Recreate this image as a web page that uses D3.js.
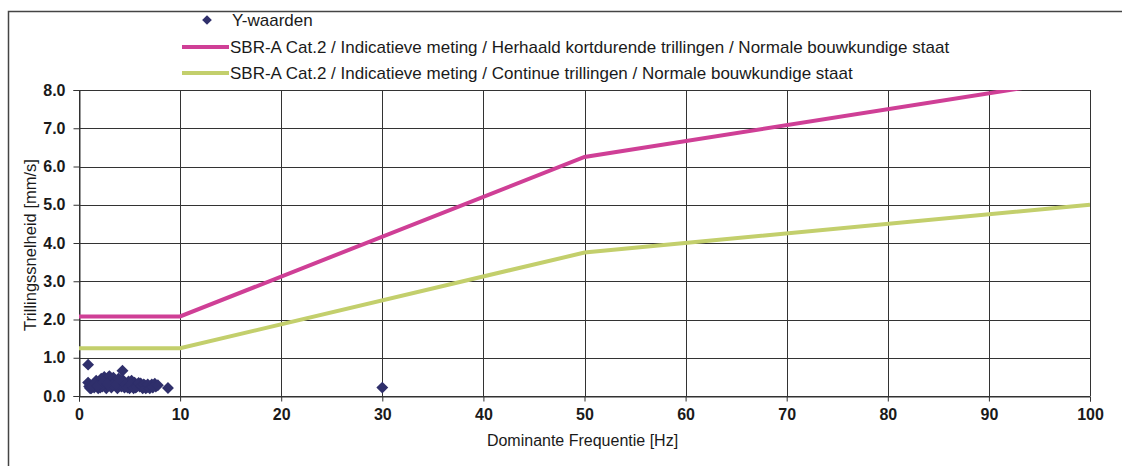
<!DOCTYPE html>
<meta charset="utf-8">
<style>
body { margin: 0; background: #fff; }
text { font-family: Arial, "Liberation Sans", sans-serif; fill: #1a1a1a; }
.grid line { stroke: #333; stroke-width: 1; }
</style>
<body>
<script src="https://cdn.jsdelivr.net/npm/d3@7"></script>
<script>
// scatter measurements: frequency [Hz], velocity [mm/s]
var measFreq = [0.9, 4.3, 8.8, 30, 0.9, 1.0, 1.2, 1.4, 1.5, 1.7, 1.9, 2.0, 2.2, 2.3, 2.5, 2.6, 2.7, 2.9,
  3.0, 3.1, 3.2, 3.4, 3.5, 3.6, 3.8, 3.9, 4.0, 4.2, 4.4, 4.5, 4.7, 4.9, 5.0, 5.2, 5.3, 5.5,
  5.6, 5.8, 6.0, 6.1, 6.3, 6.5, 6.7, 6.9, 7.2, 7.5, 7.6, 1.1, 2.1, 3.3,
  1.3, 1.6, 1.8, 2.4, 2.8, 3.7, 4.1, 4.6, 4.8, 5.1, 5.4, 5.7, 5.9, 6.2, 6.4, 6.6, 6.8, 7.0, 7.3, 7.8];
var measVel = [0.82, 0.66, 0.21, 0.22, 0.35, 0.25, 0.2, 0.3, 0.22, 0.4, 0.2, 0.35, 0.45, 0.25, 0.5, 0.3, 0.2, 0.45,
  0.52, 0.35, 0.22, 0.48, 0.3, 0.4, 0.2, 0.45, 0.33, 0.25, 0.4, 0.22, 0.3, 0.38, 0.2, 0.4, 0.28, 0.35,
  0.22, 0.3, 0.25, 0.33, 0.2, 0.28, 0.22, 0.25, 0.3, 0.32, 0.25, 0.2, 0.22, 0.28,
  0.24, 0.32, 0.26, 0.36, 0.32, 0.3, 0.42, 0.3, 0.22, 0.3, 0.2, 0.24, 0.34, 0.26, 0.3, 0.2, 0.3, 0.2, 0.22, 0.28];

// SBR-A limit lines
var limitFreq = [0, 10, 50, 100];
var shortTermVel = [2.08, 2.08, 6.25, 8.33];
var continuousVel = [1.25, 1.25, 3.75, 5.0];

var legendLabels = ["Y-waarden",
  "SBR-A Cat.2 / Indicatieve meting / Herhaald kortdurende trillingen / Normale bouwkundige staat",
  "SBR-A Cat.2 / Indicatieve meting / Continue trillingen / Normale bouwkundige staat"];

var xTicks = [0, 10, 20, 30, 40, 50, 60, 70, 80, 90, 100];
var yTicks = [0, 1, 2, 3, 4, 5, 6, 7, 8];

var colors = { meas: "#2f2f6b", pink: "#cf3f96", green: "#c3cf6c" };

var W = 1122, H = 466;
var margin = { top: 90, right: 32, bottom: 70, left: 79 };
var width = W - margin.left - margin.right,
    height = H - margin.top - margin.bottom;

var svg = d3.select("body").append("svg")
    .attr("width", W)
    .attr("height", H);

// outer chart border (no right edge visible in the scan)
svg.append("path")
    .attr("d", "M1122,11.5 H8.5 V470")
    .attr("fill", "none")
    .attr("stroke", "#444")
    .attr("stroke-width", 1.5);

var g = svg.append("g")
    .attr("transform", "translate(" + margin.left + "," + margin.top + ")");

var x = d3.scaleLinear().domain([0, 100]).range([0, width]);
var y = d3.scaleLinear().domain([0, 8]).range([height, 0]);

g.append("defs").append("clipPath").attr("id", "clip")
  .append("rect").attr("width", width).attr("height", height);

// gridlines
g.append("g").attr("class", "grid")
  .selectAll("line").data(yTicks).enter().append("line")
    .attr("x1", 0).attr("x2", width)
    .attr("y1", d => Math.round(y(d)) + 0.5).attr("y2", d => Math.round(y(d)) + 0.5);
g.append("g").attr("class", "grid")
  .selectAll("line").data(xTicks).enter().append("line")
    .attr("y1", 0).attr("y2", height)
    .attr("x1", d => Math.round(x(d)) + 0.5).attr("x2", d => Math.round(x(d)) + 0.5);

// axes
var xAxis = g.append("g")
    .attr("transform", "translate(0," + (Math.round(height) + 0.5) + ")")
    .call(d3.axisBottom(x).tickValues(xTicks).tickSize(5).tickPadding(7).tickFormat(d3.format("d")));
var yAxis = g.append("g")
    .attr("transform", "translate(0.5,0)")
    .call(d3.axisLeft(y).tickValues(yTicks).tickSize(6).tickPadding(8).tickFormat(d3.format(".1f")));
[xAxis, yAxis].forEach(function(a) {
  a.select(".domain").attr("stroke", "#333");
  a.selectAll(".tick line").attr("stroke", "#333");
  a.selectAll("text").style("font-size", "16px").style("font-weight", "bold").attr("fill", "#222");
});

// limit lines
var lineGen = d3.line().x(d => x(d[0])).y(d => y(d[1]));
g.append("path")
    .datum(limitFreq.map((f, i) => [f, continuousVel[i]]))
    .attr("clip-path", "url(#clip)")
    .attr("fill", "none").attr("stroke", colors.green).attr("stroke-width", 4)
    .attr("d", lineGen);
g.append("path")
    .datum(limitFreq.map((f, i) => [f, shortTermVel[i]]))
    .attr("clip-path", "url(#clip)")
    .attr("fill", "none").attr("stroke", colors.pink).attr("stroke-width", 4)
    .attr("d", lineGen);

// measurements
var diamond = d3.symbol().type(d3.symbolDiamond2).size(90);
g.selectAll(".pt").data(measFreq.map((f, i) => [f, measVel[i]]))
  .enter().append("path")
    .attr("class", "pt")
    .attr("transform", d => "translate(" + x(d[0]) + "," + y(d[1]) + ")")
    .attr("d", diamond)
    .attr("fill", colors.meas);

// axis titles
svg.append("text")
    .attr("x", margin.left + width / 2 - 2).attr("y", 446)
    .attr("text-anchor", "middle")
    .style("font-size", "16px")
    .text("Dominante Frequentie [Hz]");
svg.append("text")
    .attr("transform", "translate(36," + (margin.top + 155) + ") rotate(-90)")
    .attr("text-anchor", "middle")
    .style("font-size", "16.5px")
    .text("Trillingssnelheid [mm/s]");

// legend
var leg = svg.append("g");
leg.append("path")
    .attr("transform", "translate(207,20)")
    .attr("d", d3.symbol().type(d3.symbolDiamond2).size(60))
    .attr("fill", colors.meas);
leg.append("text").attr("x", 232).attr("y", 26).style("font-size", "17px").text(legendLabels[0]);
[[colors.pink, 47], [colors.green, 73]].forEach(function(c, i) {
  leg.append("line")
      .attr("x1", 182).attr("x2", 229).attr("y1", c[1]).attr("y2", c[1])
      .attr("stroke", c[0]).attr("stroke-width", 4);
  leg.append("text").attr("x", 230).attr("y", c[1] + 6).style("font-size", "17px").text(legendLabels[i + 1]);
});
</script>
</body>
